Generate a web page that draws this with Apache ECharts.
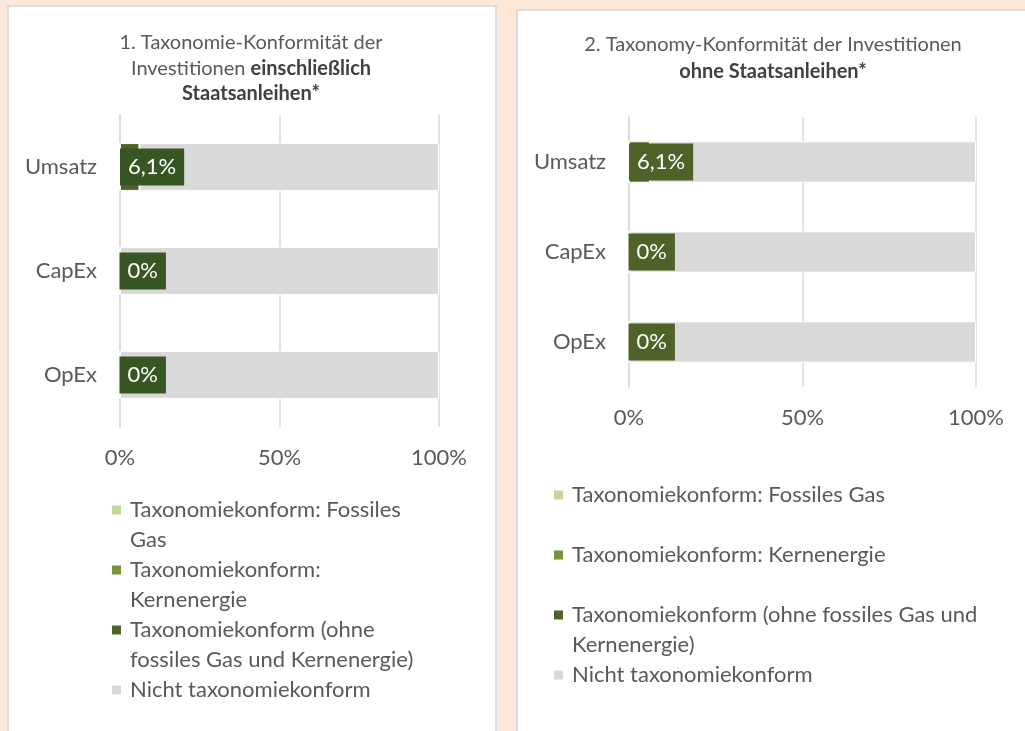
<!DOCTYPE html>
<html>
<head>
<meta charset="utf-8">
<title>Taxonomie-Konformität</title>
<script src="https://cdn.jsdelivr.net/npm/echarts@6/dist/echarts.min.js"></script>
<style>
  html, body { margin: 0; padding: 0; }
  body { width: 1025px; height: 731px; background: #fbe8d8; position: relative; overflow: hidden; }
  .panel { position: absolute; background: #fff; border: 2px solid #dcdcdc; box-sizing: border-box; }
  #main { position: absolute; left: 0; top: 0; width: 1025px; height: 731px; }
</style>
</head>
<body>
<div class="panel" style="left: 7px; top: 5px; width: 490px; height: 760px"></div>
<div class="panel" style="left: 516px; top: 9px; width: 540px; height: 760px"></div>
<div id="main"></div>
<script>
  // kategorien + reihen
  const categories = ['Umsatz', 'CapEx', 'OpEx'];
  const seriesNames = [
    'Taxonomiekonform: Fossiles Gas',
    'Taxonomiekonform: Kernenergie',
    'Taxonomiekonform (ohne fossiles Gas und Kernenergie)',
    'Nicht taxonomiekonform'
  ];

  // 1. einschließlich Staatsanleihen
  const gasIncl = [0, 0, 0];
  const nuclearIncl = [0, 0, 0];
  const alignedIncl = [6.1, 0, 0];
  const notAlignedIncl = [93.9, 100, 100];

  // 2. ohne Staatsanleihen
  const gasExcl = [0, 0, 0];
  const nuclearExcl = [0, 0, 0];
  const alignedExcl = [6.1, 0, 0];
  const notAlignedExcl = [93.9, 100, 100];

  const colors = ['#c4d79b', '#77933c', '#4f6228', '#d9d9d9'];
  const textColor = '#595959';
  const font = 'Lato';

  // zeilenumbruch der legende
  const legendLinesLeft = [
    ['Taxonomiekonform: Fossiles', 'Gas'],
    ['Taxonomiekonform:', 'Kernenergie'],
    ['Taxonomiekonform (ohne', 'fossiles Gas und Kernenergie)'],
    ['Nicht taxonomiekonform']
  ];
  const legendLinesRight = [
    ['Taxonomiekonform: Fossiles Gas', ' '],
    ['Taxonomiekonform: Kernenergie', ' '],
    ['Taxonomiekonform (ohne fossiles Gas und', 'Kernenergie)'],
    ['Nicht taxonomiekonform']
  ];

  const legendRich = {
    t: { fontSize: 22, lineHeight: 30, color: textColor, fontFamily: font },
    g: { width: 9 },
    s: { width: 18 }
  };
  colors.forEach(function (c, i) {
    legendRich['m' + i] = { width: 9, height: 9, backgroundColor: c };
  });

  function legendFormatter(lines) {
    return function (name) {
      const i = seriesNames.indexOf(name);
      return lines[i].map(function (l, k) {
        return (k === 0 ? '{m' + i + '|}{g|}' : '{s|}') + '{t|' + l + '}';
      }).join('\n');
    };
  }

  function pct(v) {
    return String(v).replace('.', ',') + '%';
  }

  function makeSeries(idx, data, stack, labelBg) {
    return data.map(function (vals, i) {
      const s = {
        name: seriesNames[i],
        type: 'bar',
        stack: stack,
        xAxisIndex: idx,
        yAxisIndex: idx,
        barCategoryGap: '54%',
        data: vals,
        itemStyle: { color: colors[i], borderColor: '#fff', borderWidth: 1 },
        label: { show: false }
      };
      if (i === 2) {
        s.label = {
          show: true,
          position: 'insideLeft',
          distance: 0,
          formatter: function (p) { return pct(p.value); },
          color: '#fff',
          fontSize: 22,
          fontFamily: font,
          lineHeight: 29,
          padding: [4, 8, 4, 8],
          backgroundColor: labelBg
        };
      }
      return s;
    });
  }

  function xAxis(idx) {
    return {
      gridIndex: idx,
      type: 'value',
      min: 0,
      max: 100,
      interval: 50,
      axisLine: { show: false },
      axisTick: { show: false },
      splitLine: { lineStyle: { color: '#d9d9d9', width: 1.5 } },
      axisLabel: {
        formatter: '{value}%',
        color: textColor,
        fontSize: 22,
        fontFamily: font,
        margin: 20
      }
    };
  }

  function yAxis(idx) {
    return {
      gridIndex: idx,
      type: 'category',
      inverse: true,
      data: categories,
      axisLine: { lineStyle: { color: '#d9d9d9', width: 1.5 } },
      axisTick: { length: 7, lineStyle: { color: '#d9d9d9', width: 1.5 } },
      axisLabel: { color: textColor, fontSize: 22, fontFamily: font, margin: 23 }
    };
  }

  const chart = echarts.init(document.getElementById('main'));
  chart.setOption({
    animation: false,
    backgroundColor: 'transparent',
    title: [
      {
        text: '1. Taxonomie-Konformität der\nInvestitionen {b|einschließlich}\n{b|Staatsanleihen*}',
        left: 251,
        top: 30,
        padding: 0,
        textAlign: 'center',
        textStyle: {
          color: textColor,
          fontSize: 20,
          fontWeight: 'normal',
          fontFamily: font,
          lineHeight: 25.5,
          rich: {
            b: { fontWeight: 'bold', color: '#404040', fontSize: 20, fontFamily: font, lineHeight: 25.5 }
          }
        }
      },
      {
        text: '2. Taxonomy-Konformität der Investitionen\n{b|ohne Staatsanleihen*}',
        left: 773,
        top: 31,
        padding: 0,
        textAlign: 'center',
        textStyle: {
          color: textColor,
          fontSize: 20,
          fontWeight: 'normal',
          fontFamily: font,
          lineHeight: 27,
          rich: {
            b: { fontWeight: 'bold', color: '#404040', fontSize: 20, fontFamily: font, lineHeight: 27 }
          }
        }
      }
    ],
    legend: [
      {
        orient: 'vertical',
        left: 107,
        top: 495,
        padding: 0,
        itemGap: 0,
        itemWidth: 0,
        itemHeight: 9,
        textGap: 0,
        icon: 'none',
        selectedMode: false,
        data: seriesNames,
        formatter: legendFormatter(legendLinesLeft),
        textStyle: { color: textColor, fontSize: 22, lineHeight: 30, fontFamily: font, rich: legendRich }
      },
      {
        orient: 'vertical',
        left: 549,
        top: 480,
        padding: 0,
        itemGap: 0,
        itemWidth: 0,
        itemHeight: 9,
        textGap: 0,
        icon: 'none',
        selectedMode: false,
        data: seriesNames,
        formatter: legendFormatter(legendLinesRight),
        textStyle: { color: textColor, fontSize: 22, lineHeight: 30, fontFamily: font, rich: legendRich }
      }
    ],
    grid: [
      { left: 120, top: 115, width: 319, height: 312 },
      { left: 629, top: 117, width: 347, height: 270 }
    ],
    xAxis: [xAxis(0), xAxis(1)],
    yAxis: [yAxis(0), yAxis(1)],
    series: makeSeries(0, [gasIncl, nuclearIncl, alignedIncl, notAlignedIncl], 'incl', '#375623')
      .concat(makeSeries(1, [gasExcl, nuclearExcl, alignedExcl, notAlignedExcl], 'excl', '#4f6228'))
  });
</script>
</body>
</html>
